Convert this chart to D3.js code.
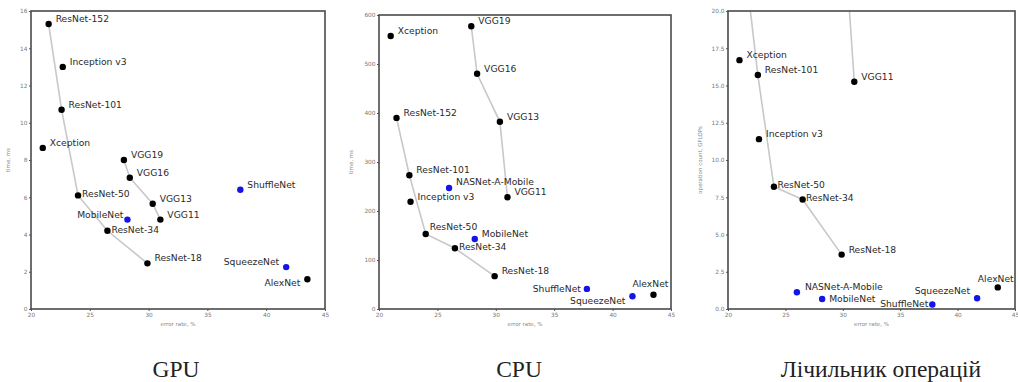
<!DOCTYPE html>
<html>
<head>
<meta charset="utf-8">
<script src="https://cdn.jsdelivr.net/npm/d3@7"></script>
<style>
  body { margin: 0; background: #fff; }
  svg { display: block; }
  .lbl { font-family: "DejaVu Sans", sans-serif; font-size: 9.2px; fill: #2a2a2a; }
  .tick text { font-family: "DejaVu Sans", sans-serif; font-size: 5.8px; fill: #777; }
  .axtitle { font-family: "DejaVu Sans", sans-serif; font-size: 5.5px; fill: #888; }
  .caption { font-family: "Liberation Serif", serif; font-size: 23.5px; fill: #222; }
</style>
</head>
<body>
<svg id="chart" width="1018" height="382"></svg>
<script>
// models and their error rate, %
const models = ["ResNet-152", "Inception v3", "ResNet-101", "Xception", "VGG19", "VGG16",
  "ResNet-50", "VGG13", "VGG11", "MobileNet", "NASNet-A-Mobile", "ResNet-34", "ResNet-18",
  "ShuffleNet", "SqueezeNet", "AlexNet"]
const errorRate = [21.5, 22.7, 22.6, 21.0, 27.9, 28.4, 24.0, 30.35, 31.0, 28.2, 26.0, 26.5, 29.9, 37.8, 41.7, 43.5]

// y values per chart (null = not plotted)
const gpuTime = [15.3, 13.0, 10.7, 8.65, 8.0, 7.05, 6.1, 5.65, 4.8, 4.8, null, 4.2, 2.45, 6.4, 2.25, 1.6]
const cpuTime = [390, 219, 273, 557, 577, 480, 153, 382, 228, 143, 247, 124, 67, 41, 26, 29]
const gflops = [23.0, 11.4, 15.7, 16.7, 39.2, 31.0, 8.2, 22.6, 15.25, 0.67, 1.12, 7.35, 3.65, 0.3, 0.72, 1.45]

const mobileModels = ["MobileNet", "NASNet-A-Mobile", "ShuffleNet", "SqueezeNet"]
const resnetLine = ["ResNet-152", "ResNet-101", "ResNet-50", "ResNet-34", "ResNet-18"]
const vggLine = ["VGG19", "VGG16", "VGG13", "VGG11"]

const gpuTicks = [0, 2, 4, 6, 8, 10, 12, 14, 16]
const cpuTicks = [0, 100, 200, 300, 400, 500, 600]
const opsTicks = [0, 2.5, 5, 7.5, 10, 12.5, 15, 17.5, 20]
const xTicks = [20, 25, 30, 35, 40, 45]

const captions = ["GPU", "CPU", "Лічильник операцій"]

// label placement (anchor, dx, dy) where it differs from the default right/up
const place = [
  { "ResNet-50": ["start", 4, 2], "ResNet-34": ["start", 4, 2], "MobileNet": ["end", -4, -2],
    "SqueezeNet": ["end", -7, -2], "AlexNet": ["end", -7, 7] },
  { "ResNet-50": ["start", 4, -4], "ResNet-34": ["start", 4, 2], "ShuffleNet": ["end", -6, 3],
    "SqueezeNet": ["end", -7, 8], "AlexNet": ["middle", -3, -8], "NASNet-A-Mobile": ["start", 7, -3] },
  { "ResNet-50": ["start", 3.5, 1], "ResNet-34": ["start", 3.5, 1.5], "MobileNet": ["start", 7, 2.7],
    "ShuffleNet": ["end", -4, 2.5], "SqueezeNet": ["end", -7, -4], "AlexNet": ["middle", -2, -5],
    "NASNet-A-Mobile": ["start", 8, -2.7] }
]

const panels = [
  { vals: gpuTime, ydom: [0, 16], ticks: gpuTicks, fmt: d3.format("d"), left: 31, right: 325, top: 11,
    ylabel: "time, ms", ylx: 10, cap: 176 },
  { vals: cpuTime, ydom: [0, 600], ticks: cpuTicks, fmt: d3.format("d"), left: 379, right: 671, top: 15,
    ylabel: "time, ms", ylx: 353, cap: 519 },
  { vals: gflops, ydom: [0, 20], ticks: opsTicks, fmt: d3.format(".1f"), left: 728, right: 1015, top: 11,
    ylabel: "operation count, GFLOPs", ylx: 702, cap: 881 }
]
const bottom = 309

const svg = d3.select("#chart")

panels.forEach((p, pi) => {
  const x = d3.scaleLinear().domain([20, 45]).range([p.left, p.right])
  const y = d3.scaleLinear().domain(p.ydom).range([bottom, p.top])
  const g = svg.append("g")

  const rows = models.map((m, i) => ({ name: m, x: errorRate[i], y: p.vals[i] }))
    .filter(d => d.y !== null)
  const byName = new Map(rows.map(d => [d.name, d]))

  g.append("clipPath").attr("id", "clip" + pi)
    .append("rect").attr("x", p.left).attr("y", p.top)
    .attr("width", p.right - p.left).attr("height", bottom - p.top)

  const plot = g.append("g").attr("clip-path", "url(#clip" + pi + ")")

  // family lines
  const line = d3.line().x(d => x(d.x)).y(d => y(d.y))
  ;[resnetLine, vggLine].forEach(fam => {
    plot.append("path")
      .datum(fam.map(n => byName.get(n)))
      .attr("d", line)
      .attr("fill", "none")
      .attr("stroke", "#c8c8c8")
      .attr("stroke-width", 1.6)
  })

  plot.selectAll("circle")
    .data(rows)
    .enter()
    .append("circle")
    .attr("cx", d => x(d.x))
    .attr("cy", d => y(d.y))
    .attr("r", 3.2)
    .attr("fill", d => mobileModels.includes(d.name) ? "#1414e6" : "#000")

  // labels
  const visible = rows.filter(d => d.y <= p.ydom[1])
  g.selectAll(".lbl")
    .data(visible)
    .enter()
    .append("text")
    .attr("class", "lbl")
    .attr("x", d => x(d.x) + (place[pi][d.name] ? place[pi][d.name][1] : 7))
    .attr("y", d => y(d.y) + (place[pi][d.name] ? place[pi][d.name][2] : -2))
    .attr("text-anchor", d => place[pi][d.name] ? place[pi][d.name][0] : "start")
    .text(d => d.name)

  // axes
  g.append("g").attr("transform", "translate(0," + bottom + ")")
    .call(d3.axisBottom(x).tickValues(xTicks).tickSize(2).tickPadding(1.5))
    .call(a => a.select(".domain").remove())
    .call(a => a.selectAll("line").attr("stroke", "#555"))
  g.append("g").attr("transform", "translate(" + p.left + ",0)")
    .call(d3.axisLeft(y).tickValues(p.ticks).tickFormat(p.fmt).tickSize(2).tickPadding(1.5))
    .call(a => a.select(".domain").remove())
    .call(a => a.selectAll("line").attr("stroke", "#555"))

  g.append("rect")
    .attr("x", p.left).attr("y", p.top)
    .attr("width", p.right - p.left).attr("height", bottom - p.top)
    .attr("fill", "none").attr("stroke", "#4a4a4a").attr("stroke-width", 1.6)

  g.append("text").attr("class", "axtitle")
    .attr("x", (p.left + p.right) / 2).attr("y", 326)
    .attr("text-anchor", "middle").text("error rate, %")
  g.append("text").attr("class", "axtitle")
    .attr("transform", "translate(" + p.ylx + "," + ((p.top + bottom) / 2) + ") rotate(-90)")
    .attr("text-anchor", "middle").text(p.ylabel)

  svg.append("text").attr("class", "caption")
    .attr("x", p.cap).attr("y", 377)
    .attr("text-anchor", "middle").text(captions[pi])
})
</script>
</body>
</html>
